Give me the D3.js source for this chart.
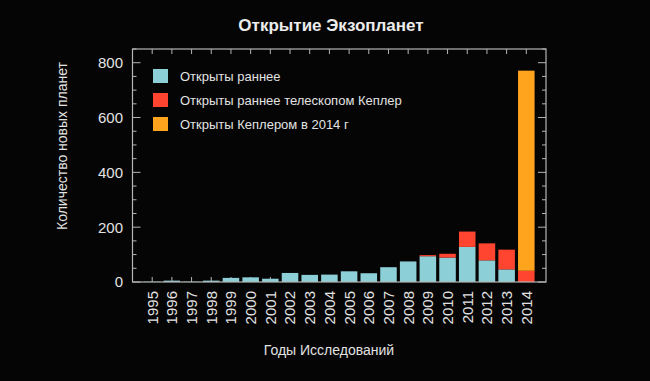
<!DOCTYPE html>
<html><head><meta charset="utf-8">
<script src="https://cdn.jsdelivr.net/npm/d3@7"></script>
<style>html,body{margin:0;padding:0;background:#050505;}svg{display:block;}</style>
</head><body>
<svg id="c" width="650" height="381"></svg>
<script>
const years = [1995,1996,1997,1998,1999,2000,2001,2002,2003,2004,2005,2006,2007,2008,2009,2010,2011,2012,2013,2014];
const earlier = [1,5,1,5,15,17,12,33,26,27,39,32,54,75,94,89,128,79,46,0];
const keplerEarlier = [0,0,0,0,0,0,0,0,0,0,0,0,0,0,4,14,56,62,72,41];
const kepler2014 = [0,0,0,0,0,0,0,0,0,0,0,0,0,0,0,0,0,0,0,730];
const seriesNames = ["Открыты раннее","Открыты раннее телескопом Кеплер","Открыты Кеплером в 2014 г"];
const seriesColors = ["#8ccfd7","#ff4430","#ffa41c"];
const yTicks = [0,200,400,600,800];
const title = "Открытие Экзопланет";
const xTitle = "Годы Исследований";
const yTitle = "Количество новых планет";

const svg = d3.select("#c");
svg.append("rect").attr("width",650).attr("height",381).attr("fill","#050505");
const L=132.5, R=546, T=49, B=282;
const x = d3.scaleBand().domain(years).range([L,R]).paddingInner(0.16).paddingOuter(0.58);
const y = d3.scaleLinear().domain([0,850]).range([B,T]);
const frameCol="#b5b5b5";

const minor = d3.range(0,851,50);
// left ticks
svg.append("g").selectAll("line").data(minor).enter().append("line")
  .attr("x1",L).attr("x2",d=>L+(d%200===0?8:4)).attr("y1",d=>y(d)).attr("y2",d=>y(d))
  .attr("stroke",frameCol);
// right ticks
svg.append("g").selectAll("line").data(minor).enter().append("line")
  .attr("x1",R).attr("x2",d=>R-(d%200===0?8:4)).attr("y1",d=>y(d)).attr("y2",d=>y(d))
  .attr("stroke",frameCol);
// top/bottom ticks at years
svg.append("g").selectAll("line").data(years).enter().append("line")
  .attr("x1",d=>x(d)+x.bandwidth()/2).attr("x2",d=>x(d)+x.bandwidth()/2).attr("y1",T).attr("y2",T+5)
  .attr("stroke",frameCol);
svg.append("g").selectAll("line").data(years).enter().append("line")
  .attr("x1",d=>x(d)+x.bandwidth()/2).attr("x2",d=>x(d)+x.bandwidth()/2).attr("y1",B).attr("y2",B-5)
  .attr("stroke",frameCol);

const data = years.map((yr,i)=>({year:yr, a:earlier[i], b:keplerEarlier[i], c:kepler2014[i]}));
const stack = d3.stack().keys(["a","b","c"])(data);
const g = svg.append("g");
stack.forEach((s,k)=>{
  g.selectAll(null).data(s).enter().append("rect")
    .attr("x",d=>x(d.data.year)).attr("width",x.bandwidth())
    .attr("y",d=>y(d[1])).attr("height",d=>Math.max(0,y(d[0])-y(d[1])))
    .attr("fill",seriesColors[k]);
});

// frame
svg.append("rect").attr("x",L).attr("y",T).attr("width",R-L).attr("height",B-T)
  .attr("fill","none").attr("stroke",frameCol).attr("stroke-width",1.2);

const txt="#e2e2e2";
const font="Liberation Sans, Arial, sans-serif";
// y tick labels
svg.append("g").selectAll("text").data(yTicks).enter().append("text")
  .attr("x",123).attr("y",d=>y(d)).attr("dy","0.36em").attr("text-anchor","end")
  .attr("fill",txt).attr("font-family",font).attr("font-size",15).text(d=>d);
// x tick labels
svg.append("g").selectAll("text").data(years).enter().append("text")
  .attr("transform",d=>`translate(${x(d)+x.bandwidth()/2},291) rotate(-90)`)
  .attr("dy","0.36em").attr("text-anchor","end")
  .attr("fill",txt).attr("font-family",font).attr("font-size",15).text(d=>d);

// titles
svg.append("text").attr("x",331).attr("y",31).attr("text-anchor","middle")
  .attr("fill","#ececec").attr("font-family",font).attr("font-weight","bold").attr("font-size",17).text(title);
svg.append("text").attr("x",329).attr("y",355).attr("text-anchor","middle")
  .attr("fill",txt).attr("font-family",font).attr("font-size",14).text(xTitle);
svg.append("text").attr("transform","translate(67,146) rotate(-90)").attr("text-anchor","middle")
  .attr("fill",txt).attr("font-family",font).attr("font-size",14).text(yTitle);

// legend
const lg = svg.append("g").selectAll("g").data(seriesNames).enter().append("g")
  .attr("transform",(d,i)=>`translate(153,${69+i*24})`);
lg.append("rect").attr("width",15).attr("height",14).attr("fill",(d,i)=>seriesColors[i]);
lg.append("text").attr("x",27).attr("y",7).attr("dy","0.36em").attr("fill",txt)
  .attr("font-family",font).attr("font-size",13).text(d=>d);
</script>
</body></html>
